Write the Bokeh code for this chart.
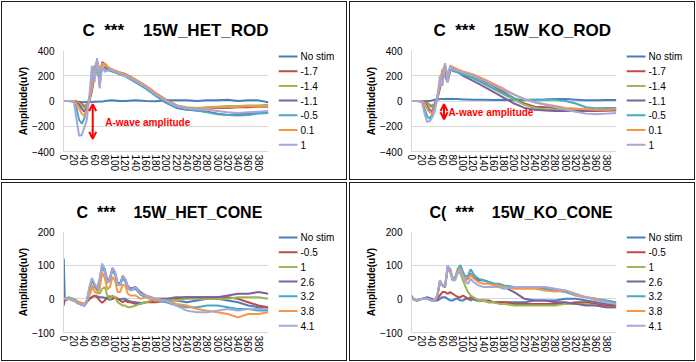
from bokeh.plotting import figure
from bokeh.models import Range1d, FixedTicker, Label, Arrow, OpenHead
from bokeh.core.properties import value
from bokeh.layouts import column, row
from bokeh.embed import file_html
from bokeh.resources import INLINE

# ---------------- data ----------------
SERIES_ROD = ["No stim", "-1.7", "-1.4", "-1.1", "-0.5", "0.1", "1"]
SERIES_CONE = ["No stim", "-0.5", "1", "2.6", "3.2", "3.8", "4.1"]
COLORS = ["#4A7EBB", "#BE4B48", "#98B954", "#7D60A0", "#46AAC5", "#F79646", "#A3A8D8"]
X_TICKS = [0, 20, 40, 60, 80, 100, 120, 140, 160, 180, 200, 220, 240, 260, 280, 300, 320, 340, 360, 380]
ROD_Y_TICKS = [-400, -200, 0, 200, 400]
CONE_Y_TICKS = [-100, 0, 100, 200]

X_ROD = [0, 10, 20, 25, 30, 35, 40, 45, 50, 55, 60, 65, 70, 75, 80, 90, 100, 110, 120, 140, 160, 180,
         200, 220, 240, 260, 280, 300, 320, 340, 360, 380, 399]

HET_ROD = [
    [0, 0, -2, -5, -5, -8, -10, -8, -5, -8, -5, -5, -3, -5, 0, 5, 3, 0, 0, 5, 0, -2, 5, 5, 5, 0, 5, 5, 10, 0, 5, 5, -10],
    [0, 0, 0, -5, -10, -25, -40, -30, 20, 120, 250, 320, 130, 310, 290, 250, 240, 225, 215, 170, 120, 60, 10, -35, -55, -60, -60, -55, -55, -50, -50, -45, -45],
    [0, 0, 0, -5, -15, -35, -55, -35, 10, 100, 230, 300, 200, 280, 300, 255, 235, 222, 208, 165, 115, 55, 5, -35, -50, -55, -50, -45, -40, -40, -35, -35, -30],
    [0, 0, 0, -10, -30, -60, -85, -50, 0, 80, 200, 280, 260, 250, 270, 245, 230, 212, 198, 150, 100, 40, -15, -55, -70, -75, -85, -100, -110, -105, -100, -95, -90],
    [0, 0, -5, -60, -150, -180, -140, -60, 20, 150, 280, 220, 180, 260, 250, 240, 225, 210, 195, 150, 100, 40, -10, -50, -65, -75, -90, -105, -110, -115, -110, -100, -95],
    [0, 0, 0, -20, -60, -100, -115, -70, 10, 100, 240, 310, 250, 300, 280, 260, 240, 225, 210, 170, 120, 60, 5, -35, -55, -60, -55, -50, -50, -45, -40, -45, -40],
    [0, 0, -10, -150, -275, -270, -210, -150, 40, 280, 150, 340, 100, 280, 230, 250, 230, 215, 200, 160, 110, 50, 0, -40, -60, -65, -70, -80, -90, -95, -90, -85, -80],
]

KO_ROD = [
    [0, 0, 0, 0, 0, 0, 5, 10, 10, 15, 15, 15, 18, 15, 15, 15, 12, 12, 10, 10, 8, 10, 5, 10, 10, 12, 15, 15, 10, 5, 5, 8, 8],
    [0, 0, 0, -5, -15, -30, -40, -20, 30, 120, 230, 200, 150, 240, 250, 240, 228, 215, 200, 160, 120, 70, 20, -20, -45, -50, -55, -65, -75, -80, -80, -75, -70],
    [0, 0, 0, -5, -20, -40, -50, -25, 20, 110, 220, 210, 160, 250, 240, 230, 215, 200, 185, 140, 95, 50, 10, -30, -55, -65, -70, -70, -70, -65, -60, -60, -55],
    [0, 0, 0, -10, -40, -70, -80, -40, 20, 100, 200, 230, 180, 250, 260, 230, 200, 180, 160, 115, 70, 25, -20, -55, -70, -75, -80, -80, -80, -80, -75, -75, -75],
    [0, 0, -5, -60, -120, -140, -110, -50, 40, 150, 250, 200, 180, 260, 240, 225, 210, 195, 180, 140, 100, 60, 20, 5, 10, 10, 10, 0, -20, -50, -60, -55, -55],
    [0, 0, 0, -20, -60, -90, -100, -60, 20, 120, 240, 290, 200, 280, 270, 250, 235, 222, 210, 175, 135, 95, 50, 15, -10, -25, -40, -55, -60, -65, -70, -70, -65],
    [0, 0, -10, -100, -165, -160, -130, -80, 30, 200, 120, 300, 150, 280, 250, 240, 225, 215, 200, 165, 125, 85, 50, 15, -10, -30, -50, -70, -85, -100, -105, -100, -95],
]

X_CONE = [0, 2, 10, 20, 30, 40, 45, 50, 55, 60, 65, 70, 75, 80, 85, 90, 95, 100, 105, 110, 115, 120, 125,
          130, 140, 150, 160, 170, 180, 200, 220, 240, 260, 280, 300, 320, 340, 360, 380, 399]

HET_CONE = [
    [120, -5, 0, -5, -10, -15, -10, 0, 5, 8, 8, 5, 5, 3, 0, -3, 0, 5, 0, -2, 0, 0, -5, -8, -10, -12, -10, -8, -5, -5, -5, -10, -5, 0, 0, -5, -10, -20, -25, -30],
    [-20, 0, 0, -5, -15, -20, -10, 0, 5, 10, 5, -5, -12, -5, 5, 8, 0, 5, 0, -5, -10, -5, -10, -10, -15, -15, -10, -10, -10, -5, 0, 5, 5, 5, 5, 5, 0, -10, -20, -25],
    [0, 0, 5, 0, -10, -20, -10, 10, 30, 38, 25, 15, 30, 35, 10, 0, 10, 5, -10, -15, -20, -20, -25, -25, -20, -15, -10, -5, 0, 0, -5, 0, 0, 0, 0, 0, 5, 5, 5, 0],
    [0, 0, 0, -5, -15, -20, -5, 30, 58, 42, 30, 55, 100, 88, 55, 62, 92, 78, 48, 45, 68, 58, 38, 30, 35, 20, 10, 5, 0, 0, 5, 5, 5, 5, 5, 10, 15, 15, 20, 15],
    [0, 0, 0, -5, -15, -20, -5, 25, 55, 40, 28, 50, 95, 80, 48, 55, 85, 72, 42, 40, 60, 52, 32, 25, 30, 12, 5, 0, -5, -10, -20, -25, -25, -20, -20, -25, -30, -30, -35, -35],
    [0, 0, 0, -5, -10, -15, -5, 15, 40, 22, 15, 30, 78, 62, 28, 35, 65, 55, 20, 20, 42, 40, 15, 10, 10, 0, 5, 0, -5, -5, -15, -20, -30, -35, -40, -45, -55, -45, -45, -40],
    [0, 0, 0, -5, -15, -20, -5, 35, 62, 45, 32, 60, 105, 85, 50, 60, 90, 80, 45, 40, 65, 60, 35, 25, 35, 15, 10, 5, 0, -5, -20, -35, -40, -40, -35, -30, -35, -30, -30, -30],
]

KO_CONE = [
    [10, 0, -5, 0, 5, 0, -5, -5, 0, 5, 5, 0, -5, -5, 0, 0, -5, -5, 0, 0, -5, 0, -5, -5, -5, -10, -10, -10, -10, -10, -10, -5, -5, -5, 0, 0, -5, -10, -15, -15],
    [5, 0, -5, 0, 0, -5, -5, 0, 10, 20, 20, 15, 20, 15, 10, 5, 5, 10, 5, 0, 5, 0, 0, -5, -5, -5, -10, -10, -10, -15, -15, -15, -15, -15, -15, -10, -10, -15, -20, -20],
    [5, 0, -5, 0, 0, -5, -5, 10, 50, 40, 35, 95, 80, 55, 60, 80, 75, 55, 35, 20, 10, 5, 0, -5, -5, -10, -10, -15, -15, -20, -20, -20, -20, -20, -15, -15, -15, -20, -25, -25],
    [5, 0, -5, 0, 0, -5, -5, 10, 50, 40, 35, 90, 82, 55, 60, 85, 90, 70, 55, 62, 75, 65, 60, 55, 55, 50, 45, 40, 35, 20, 0, -5, -5, -10, -10, -15, -20, -20, -25, -25],
    [5, 0, -5, 0, 0, -5, -5, 10, 55, 40, 40, 95, 90, 60, 65, 90, 100, 80, 65, 70, 88, 75, 65, 60, 55, 50, 45, 45, 40, 35, 35, 35, 30, 25, 20, 10, 5, 0, -5, -10],
    [5, 0, -5, 0, 0, -5, -5, 10, 50, 40, 38, 90, 85, 58, 60, 85, 90, 70, 55, 58, 72, 62, 55, 50, 45, 45, 40, 40, 35, 30, 30, 30, 25, 22, 25, 10, 5, 0, -10, -15],
    [5, 0, -5, 0, 0, -5, -5, 10, 55, 40, 38, 100, 85, 55, 55, 80, 85, 65, 50, 45, 60, 50, 45, 40, 35, 35, 35, 35, 30, 35, 35, 35, 35, 30, 25, 15, 5, -5, -10, -15],
]

TITLES = ["15W_HET_ROD", "15W_KO_ROD", "15W_HET_CONE", "15W_KO_CONE"]
PREFIX = ["C", "C", "C", "C("]
STARS = "***"

# ---------------- layout ----------------
FONT = "Liberation Sans"
PLOT_W, LEG_W, PH = 278, 70, 181
FRAME_TOP, FRAME_BOT = 50, 151
XR = (-0.5, 399.5)
NB = "\u00a0"
DARK = "#1E1E1E"
PLOT_BOX = {"box-shadow": ", ".join([
    "inset 1px 0 0 0 white", "inset 0 1px 0 0 white", "inset 0 -1px 0 0 white",
    f"inset 2px 0 0 0 {DARK}", f"inset 0 2px 0 0 {DARK}", f"inset 0 -2px 0 0 {DARK}"])}
LEG_BOX = {"box-shadow": ", ".join([
    "inset -1px 0 0 0 white", "inset 0 1px 0 0 white", "inset 0 -1px 0 0 white",
    f"inset -2px 0 0 0 {DARK}", f"inset 0 2px 0 0 {DARK}", f"inset 0 -2px 0 0 {DARK}"])}
LEG_TOP, LEG_STEP = 56, 14.7


def plot_fig(xs, ys_list, yr, yticks, k, t_off, t_size):
    p = figure(width=PLOT_W, height=PH, min_border_left=63, min_border_right=PLOT_W - 63 - 205,
               min_border_top=FRAME_TOP, min_border_bottom=PH - FRAME_BOT, output_backend="svg",
               toolbar_location=None, x_range=Range1d(*XR), y_range=Range1d(*yr),
               styles=PLOT_BOX)
    p.title.text = PREFIX[k] + NB * 2 + STARS + NB * 4 + TITLES[k]
    p.title.align = "left"
    p.title.offset = t_off
    p.title.standoff = 22
    p.title.text_font = FONT
    p.title.text_font_size = t_size
    p.title.text_font_style = "bold"
    p.title.text_color = "#000000"

    p.outline_line_color = None
    p.background_fill_color = "white"
    p.border_fill_color = None
    p.xgrid.visible = False
    p.ygrid.grid_line_color = "#D9D9D9"
    p.ygrid.grid_line_width = 1

    p.xaxis.ticker = FixedTicker(ticks=X_TICKS)
    p.yaxis.ticker = FixedTicker(ticks=yticks)
    for ax in (p.xaxis[0], p.yaxis[0]):
        ax.axis_line_color = "#D9D9D9"
        ax.major_tick_line_color = None
        ax.minor_tick_line_color = None
        ax.major_tick_out = 0
        ax.major_tick_in = 0
        ax.major_label_text_font = FONT
        ax.major_label_text_font_size = "10px"
        ax.major_label_text_color = "#000000"
    p.xaxis.major_label_orientation = "vertical"
    p.xaxis.major_label_standoff = 3
    p.yaxis.major_label_standoff = 9
    p.yaxis.axis_label = "Amplitude(uV)"
    p.yaxis.axis_label_text_font = FONT
    p.yaxis.axis_label_text_font_size = "10px"
    p.yaxis.axis_label_text_font_style = "bold"
    p.yaxis.axis_label_text_color = "#000000"
    p.yaxis.axis_label_standoff = 0

    for ys, c in zip(ys_list, COLORS):
        p.line(xs, ys, line_color=c, line_width=2)
    return p


def legend_fig(names):
    # its frame is aligned with the plot frame (pixel rows FRAME_TOP..FRAME_BOT)
    lg = figure(width=LEG_W, height=PH, min_border_left=0, min_border_right=0,
                min_border_top=FRAME_TOP, min_border_bottom=PH - FRAME_BOT,
                x_range=Range1d(0, LEG_W), y_range=Range1d(FRAME_BOT, FRAME_TOP),
                x_axis_type=None, y_axis_type=None,
                output_backend="svg", toolbar_location=None, styles=LEG_BOX)
    lg.grid.visible = False
    lg.outline_line_color = None
    lg.background_fill_color = None
    lg.border_fill_color = None
    n = len(names)
    ys = [LEG_TOP + i * LEG_STEP for i in range(n)]
    lg.segment(x0=[0] * n, y0=ys, x1=[19] * n, y1=ys, line_color=COLORS[:n], line_width=2)
    lg.text(x=[22] * n, y=ys, text=names, text_font=value(FONT),
            text_font_size=value("10px"), text_color="#000000", text_baseline="middle",
            text_align="left")
    return lg


p1 = plot_fig(X_ROD, HET_ROD, (-400, 400), ROD_Y_TICKS, 0, 19, "17px")
p2 = plot_fig(X_ROD, KO_ROD, (-400, 400), ROD_Y_TICKS, 1, 22, "17px")
p3 = plot_fig(X_CONE, HET_CONE, (-100, 200), CONE_Y_TICKS, 2, 13, "16px")
p4 = plot_fig(X_CONE, KO_CONE, (-100, 200), CONE_Y_TICKS, 3, 18, "16px")

# A-wave annotations
for p, xa, y0, y1, tx, ty in ((p1, 56.5, -25, -300, 81, -173), (p2, 63, -25, -145, 71.5, -93)):
    p.add_layout(Arrow(x_start=xa, y_start=y0, x_end=xa, y_end=y1, line_color="#FF0000",
                       line_width=2,
                       start=OpenHead(size=7, line_color="#FF0000", line_width=2),
                       end=OpenHead(size=7, line_color="#FF0000", line_width=2)))
    p.add_layout(Label(x=tx, y=ty, text="A-wave amplitude", text_font=FONT,
                       text_font_size="10px", text_font_style="bold", text_color="#FF0000",
                       text_baseline="middle", text_align="left"))

layout = column(
    row(p1, legend_fig(SERIES_ROD), p2, legend_fig(SERIES_ROD)),
    row(p3, legend_fig(SERIES_CONE), p4, legend_fig(SERIES_CONE)),
)
open("out.html", "w").write(file_html(layout, INLINE))
